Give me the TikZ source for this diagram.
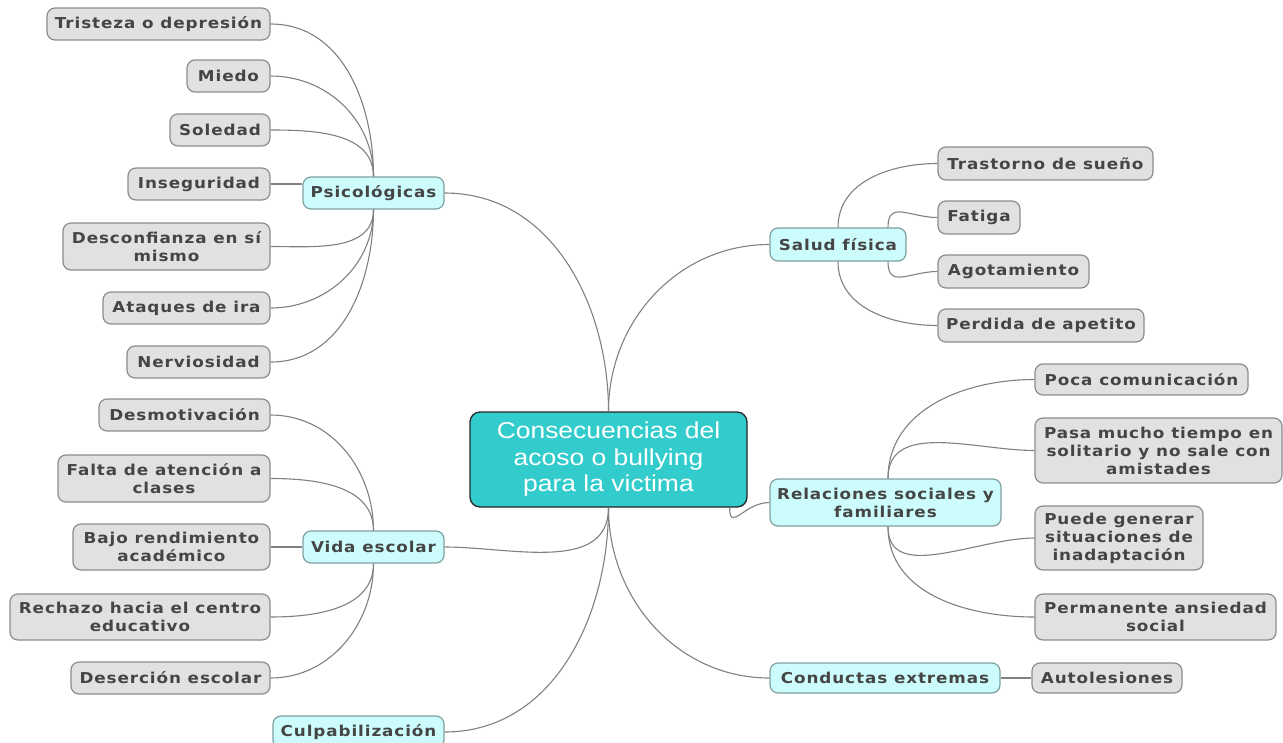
\documentclass[tikz,border=0pt]{standalone}
\usepackage{fontspec}
\newfontfamily\labfont[FakeStretch=1.12,LetterSpace=6]{DejaVu Sans}
\newfontfamily\ctrfont[FakeStretch=1.15]{Liberation Sans}
\definecolor{leaffill}{HTML}{E1E1E1}
\definecolor{leafborder}{HTML}{8C8C8C}
\definecolor{catfill}{HTML}{CCFCFC}
\definecolor{catborder}{HTML}{7FA0A0}
\definecolor{ctrfill}{HTML}{33CCCC}
\definecolor{txt}{HTML}{454545}
\definecolor{linec}{HTML}{808080}
\begin{document}
\begin{tikzpicture}[x=1pt,y=1pt,
  leaf/.style={draw=leafborder, fill=leaffill, rounded corners=8pt, line width=1.2pt,
    text=txt, font=\labfont\bfseries\fontsize{15}{18}\selectfont, align=center, inner sep=0pt},
  cat/.style={leaf, draw=catborder, fill=catfill},
  ctr/.style={draw=black!85, fill=ctrfill, rounded corners=10pt, line width=1.3pt,
    text=white, font=\ctrfont\fontsize{23}{26.5}\selectfont, align=center, inner sep=0pt},
  conn/.style={draw=linec, line width=1.1pt}]
\useasboundingbox (0,0) rectangle (1283,-742);
% center
\node[ctr, minimum width=277pt, minimum height=95pt] (c) at (608.5,-459.5) {Consecuencias del\\acoso o bullying\\para la victima};
% categories
\node[cat, minimum width=141pt, minimum height=32pt] (psi) at (373.5,-193) {Psicológicas};
\node[cat, minimum width=141pt, minimum height=32pt] (vida) at (373.5,-547) {Vida escolar};
\node[cat, minimum width=171pt, minimum height=32pt] (culp) at (358.5,-732) {Culpabilización};
\node[cat, minimum width=136pt, minimum height=33pt] (sal) at (838,-244.5) {Salud física};
\node[cat, minimum width=231pt, minimum height=47pt] (rel) at (885.5,-502.5) {Relaciones sociales y\\familiares};
\node[cat, minimum width=230pt, minimum height=30pt] (cond) at (885,-678) {Conductas extremas};
% psicologicas leaves
\node[leaf, minimum width=223pt, minimum height=32pt] (t1) at (158.5,-24) {Tristeza o depresión};
\node[leaf, minimum width=83pt, minimum height=32pt] (t2) at (228.5,-76) {Miedo};
\node[leaf, minimum width=100pt, minimum height=32pt] (t3) at (220,-130) {Soledad};
\node[leaf, minimum width=142pt, minimum height=32pt] (t4) at (199,-184) {Inseguridad};
\node[leaf, minimum width=207pt, minimum height=47pt] (t5) at (166.5,-246.5) {Desconfianza en sí\\mismo};
\node[leaf, minimum width=167pt, minimum height=32pt] (t6) at (186.5,-308) {Ataques de ira};
\node[leaf, minimum width=143pt, minimum height=32pt] (t7) at (198.5,-362) {Nerviosidad};
% vida escolar leaves
\node[leaf, minimum width=171pt, minimum height=32pt] (v1) at (184.5,-415) {Desmotivación};
\node[leaf, minimum width=212pt, minimum height=47pt] (v2) at (164,-478.5) {Falta de atención a\\clases};
\node[leaf, minimum width=197pt, minimum height=46pt] (v3) at (171.5,-547) {Bajo rendimiento\\académico};
\node[leaf, minimum width=260pt, minimum height=46pt] (v4) at (140,-617) {Rechazo hacia el centro\\educativo};
\node[leaf, minimum width=199pt, minimum height=32pt] (v5) at (170.5,-678) {Deserción escolar};
% salud leaves
\node[leaf, minimum width=215pt, minimum height=33pt] (r1) at (1045.5,-163.5) {Trastorno de sueño};
\node[leaf, minimum width=82pt, minimum height=33pt] (r2) at (979,-217.5) {Fatiga};
\node[leaf, minimum width=151pt, minimum height=33pt] (r3) at (1013.5,-271.5) {Agotamiento};
\node[leaf, minimum width=206pt, minimum height=33pt] (r4) at (1041,-325.5) {Perdida de apetito};
% relaciones leaves
\node[leaf, minimum width=213pt, minimum height=31pt] (s1) at (1141.5,-379.5) {Poca comunicación};
\node[leaf, minimum width=247pt, minimum height=65pt] (s2) at (1158.5,-450.5) {Pasa mucho tiempo en\\solitario y no sale con\\amistades};
\node[leaf, minimum width=168pt, minimum height=64pt] (s3) at (1119,-538) {Puede generar\\situaciones de\\inadaptación};
\node[leaf, minimum width=241pt, minimum height=46pt] (s4) at (1155.5,-617) {Permanente ansiedad\\social};
\node[leaf, minimum width=150pt, minimum height=30pt] (a1) at (1107,-678) {Autolesiones};
% connectors from center
\draw[conn] (psi.east) to[out=0,in=90] (c.north);
\draw[conn] (sal.west) to[out=180,in=90] (c.north);
\draw[conn] (vida.east) to[out=0,in=-90] (c.south);
\draw[conn] (culp.east) to[out=0,in=-90] (c.south);
\draw[conn] (cond.west) to[out=180,in=-90] (c.south);
\draw[conn] ([xshift=-18pt]c.south east) to[out=-90,in=180,looseness=1.6] (rel.west);
% psicologicas
\foreach \n in {t1,t2,t3} \draw[conn] (psi.north) to[out=90,in=0] (\n.east);
\draw[conn] (t4.east) -- (t4.east -| psi.west);
\foreach \n in {t5,t6,t7} \draw[conn] (psi.south) to[out=-90,in=0] (\n.east);
% vida escolar
\foreach \n in {v1,v2} \draw[conn] (vida.north) to[out=90,in=0] (\n.east);
\draw[conn] (v3.east) -- (vida.west);
\foreach \n in {v4,v5} \draw[conn] (vida.south) to[out=-90,in=0] (\n.east);
% salud
\draw[conn] (sal.north) to[out=90,in=180] (r1.west);
\draw[conn] ([xshift=50pt]sal.north) to[out=90,in=180,looseness=1.4] (r2.west);
\draw[conn] ([xshift=50pt]sal.south) to[out=-90,in=180,looseness=1.4] (r3.west);
\draw[conn] (sal.south) to[out=-90,in=180] (r4.west);
% relaciones
\foreach \n in {s1,s2} \draw[conn] ([xshift=2.5pt]rel.north) to[out=90,in=180] (\n.west);
\foreach \n in {s3,s4} \draw[conn] ([xshift=2.5pt]rel.south) to[out=-90,in=180] (\n.west);
% conductas
\draw[conn] (cond.east) -- (a1.west);
\end{tikzpicture}
\end{document}
